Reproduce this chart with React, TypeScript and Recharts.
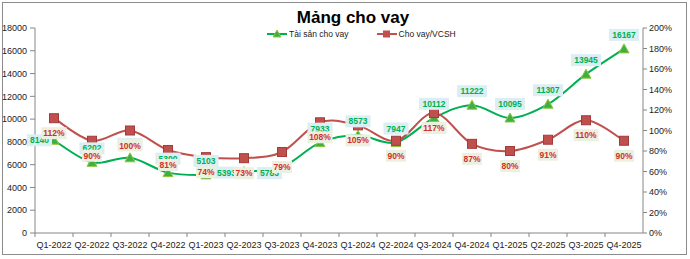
import React from "react";
import {
  ComposedChart,
  Line,
  XAxis,
  YAxis,
} from "recharts";

const quarters = [
  "Q1-2022", "Q2-2022", "Q3-2022", "Q4-2022",
  "Q1-2023", "Q2-2023", "Q3-2023", "Q4-2023",
  "Q1-2024", "Q2-2024", "Q3-2024", "Q4-2024",
  "Q1-2025", "Q2-2025", "Q3-2025", "Q4-2025",
];
const loanAssets = [
  8140, 6202, 6600, 5300, 5103, 5393, 5783, 7933,
  8573, 7947, 10112, 11222, 10095, 11307, 13945, 16167,
];
const loanToEquity = [112, 90, 100, 81, 74, 73, 79, 108, 105, 90, 117, 87, 80, 91, 110, 90];
const leftTicks = [0, 2000, 4000, 6000, 8000, 10000, 12000, 14000, 16000, 18000];
const rightTicks = [0, 20, 40, 60, 80, 100, 120, 140, 160, 180, 200];

const data = quarters.map((q, i) => ({
  q,
  assets: loanAssets[i],
  ratio: loanToEquity[i],
}));

const W = 690;
const H = 259;
const LEFT_W = 35;
const RIGHT_W = 47;
const BAND = (W - LEFT_W - RIGHT_W) / quarters.length;
const FONT = "'Liberation Sans', Arial, sans-serif";
const GREEN = "#00b050";
const RED = "#c0504d";

// smooth line like excel (catmull-rom style bezier)
function excelCurve(context: any) {
  let pts: number[][] = [];
  return {
    areaStart() {},
    areaEnd() {},
    lineStart() {
      pts = [];
    },
    point(x: number, y: number) {
      pts.push([+x, +y]);
    },
    lineEnd() {
      const n = pts.length;
      if (!n) return;
      context.moveTo(pts[0][0], pts[0][1]);
      for (let i = 0; i < n - 1; i++) {
        const p0 = pts[Math.max(i - 1, 0)];
        const p1 = pts[i];
        const p2 = pts[i + 1];
        const p3 = pts[Math.min(i + 2, n - 1)];
        context.bezierCurveTo(
          p1[0] + (p2[0] - p0[0]) / 6,
          p1[1] + (p2[1] - p0[1]) / 6,
          p2[0] - (p3[0] - p1[0]) / 6,
          p2[1] - (p3[1] - p1[1]) / 6,
          p2[0],
          p2[1]
        );
      }
    },
  };
}

const boxW = (text: string) => text.length * 5 + 5;

function Box({ cx, cy, text, bg, color }: any) {
  const w = boxW(text);
  return (
    <g>
      <rect x={cx - w / 2} y={cy - 6} width={w} height={12} fill={bg} />
      <text
        x={cx}
        y={cy}
        dy="0.36em"
        textAnchor="middle"
        fontSize={8.5}
        fontWeight="bold"
        fontFamily={FONT}
        fill={color}
      >
        {text}
      </text>
    </g>
  );
}

// a few green labels sit left of their point, as in the source chart
const leftPlaced: Record<number, [number, number]> = { 0: [-2, 0], 5: [-5, 1], 6: [0, 6] };

const GreenLabel = (props: any) => {
  const { x, y, value, index } = props;
  const text = String(value);
  const off = leftPlaced[index];
  if (off) {
    const w = boxW(text);
    return <Box cx={x - w / 2 + off[0]} cy={y + off[1]} text={text} bg="#daeef3" color={GREEN} />;
  }
  return <Box cx={x} cy={y - 14} text={text} bg="#daeef3" color={GREEN} />;
};

const RedLabel = (props: any) => {
  const { x, y, value } = props;
  return <Box cx={x} cy={y + 15} text={`${value}%`} bg="#ebf1de" color="#d0302c" />;
};

const Triangle = (props: any) => {
  const { cx, cy } = props;
  if (cx == null || cy == null) return null;
  return (
    <path
      d={`M${cx},${cy - 5} L${cx + 5},${cy + 4} L${cx - 5},${cy + 4} Z`}
      fill="#3cb043"
      stroke="#8fc63f"
      strokeWidth={1}
    />
  );
};

const Square = (props: any) => {
  const { cx, cy } = props;
  if (cx == null || cy == null) return null;
  return (
    <rect x={cx - 4.5} y={cy - 4.5} width={9} height={9} fill={RED} stroke="#a33b38" strokeWidth={1} />
  );
};

const QuarterTick = (props: any) => {
  const { x, y, payload } = props;
  return (
    <g>
      <line x1={x - BAND / 2} y1={y - 8} x2={x - BAND / 2} y2={y - 4} stroke="#868686" />
      <text x={x} y={y + 1} dy="0.71em" textAnchor="middle" fontSize={9} fontFamily={FONT} fill="#222">
        {payload.value}
      </text>
    </g>
  );
};

function LegendItem({ color, label, marker }: { color: string; label: string; marker: "tri" | "sq" }) {
  return (
    <div style={{ display: "flex", alignItems: "center", gap: 2 }}>
      <svg width={20} height={10}>
        <line x1={0} y1={5} x2={20} y2={5} stroke={color} strokeWidth={2} />
        {marker === "tri" ? (
          <path d="M10,1 L14,8 L6,8 Z" fill="#3cb043" stroke="#8fc63f" />
        ) : (
          <rect x={6} y={1.5} width={7} height={7} fill={RED} />
        )}
      </svg>
      <span>{label}</span>
    </div>
  );
}

export default function App() {
  return (
    <div style={{ position: "absolute", left: 0, top: 0, width: W, height: H, background: "#fff" }}>
      <div
        style={{
          position: "absolute",
          left: 2,
          top: 2,
          width: 683,
          height: 251,
          border: "1px solid #8c8c8c",
        }}
      />
      <div
        style={{
          position: "absolute",
          left: 0,
          top: 8,
          width: 706,
          textAlign: "center",
          fontFamily: FONT,
          fontWeight: "bold",
          fontSize: 17,
          lineHeight: "20px",
          color: "#000",
        }}
      >
        Mảng cho vay
      </div>
      <div
        style={{
          position: "absolute",
          left: 267,
          top: 29,
          display: "flex",
          gap: 28,
          fontFamily: FONT,
          fontSize: 8.5,
          color: "#222",
        }}
      >
        <LegendItem color={GREEN} label="Tài sản cho vay" marker="tri" />
        <LegendItem color={RED} label="Cho vay/VCSH" marker="sq" />
      </div>
      <div style={{ position: "absolute", left: 0, top: 0 }}>
        <ComposedChart width={W} height={H} data={data} margin={{ top: 28, right: 0, bottom: 0, left: 0 }}>
          <XAxis
            dataKey="q"
            scale="band"
            height={26}
            interval={0}
            tickLine={false}
            tickSize={4}
            tickMargin={4}
            axisLine={{ stroke: "#868686" }}
            tick={<QuarterTick />}
          />
          <YAxis
            yAxisId="left"
            width={LEFT_W}
            domain={[0, 18000]}
            ticks={leftTicks}
            interval={0}
            tickSize={5}
            tickMargin={3}
            axisLine={{ stroke: "#868686" }}
            tickLine={{ stroke: "#868686" }}
            tick={{ fontSize: 9, fill: "#222", fontFamily: FONT }}
          />
          <YAxis
            yAxisId="right"
            orientation="right"
            width={RIGHT_W}
            domain={[0, 200]}
            ticks={rightTicks}
            interval={0}
            tickSize={4}
            tickMargin={2}
            tickFormatter={(v: number) => `${v}%`}
            axisLine={{ stroke: "#868686" }}
            tickLine={{ stroke: "#868686" }}
            tick={{ fontSize: 9, fill: "#222", fontFamily: FONT }}
          />
          <Line
            yAxisId="left"
            dataKey="assets"
            type={excelCurve as any}
            stroke={GREEN}
            strokeWidth={2}
            dot={<Triangle />}
            label={<GreenLabel />}
            isAnimationActive={false}
          />
          <Line
            yAxisId="right"
            dataKey="ratio"
            type={excelCurve as any}
            stroke={RED}
            strokeWidth={2}
            dot={<Square />}
            label={<RedLabel />}
            isAnimationActive={false}
          />
        </ComposedChart>
      </div>
    </div>
  );
}
